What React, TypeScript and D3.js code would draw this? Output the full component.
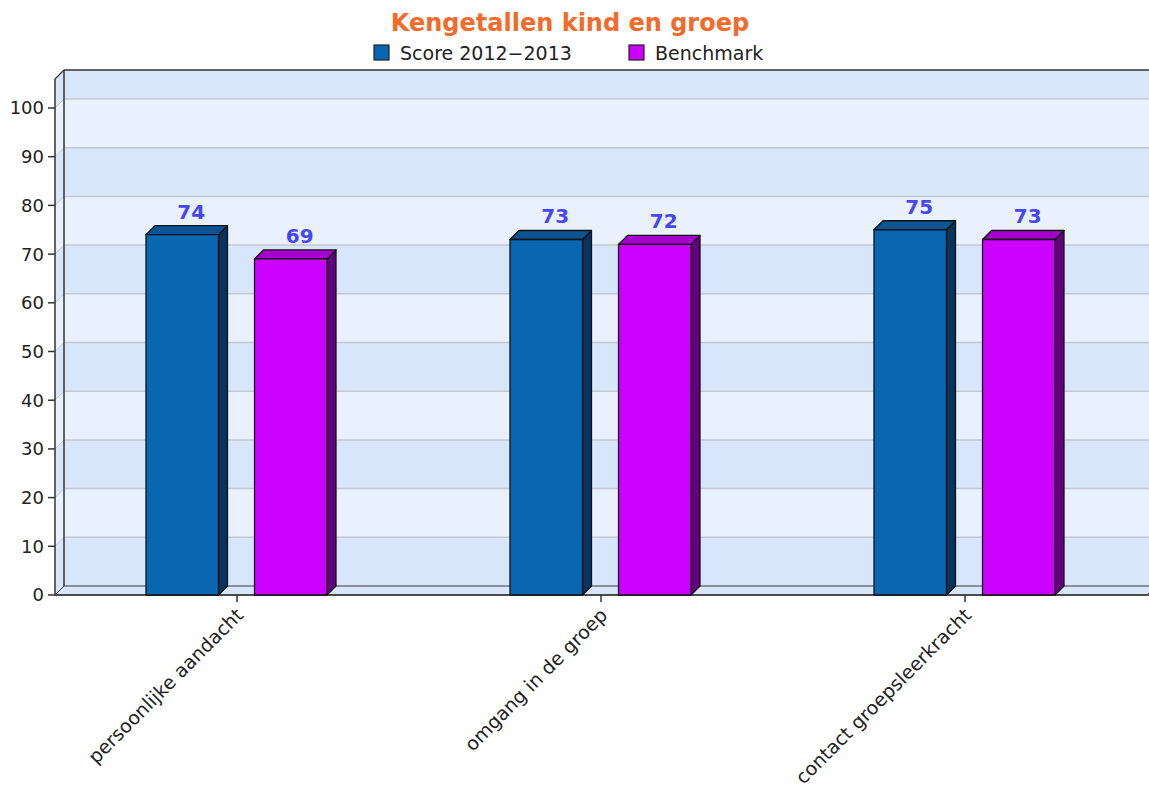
import { useEffect, useRef } from 'react';
import * as d3 from 'd3';

const categories = ['persoonlijke aandacht', 'omgang in de groep', 'contact groepsleerkracht'];
const seriesNames = ['Score 2012\u22122013', 'Benchmark'];
const scoreValues = [74, 73, 75];
const benchmarkValues = [69, 72, 73];
const yTicks = [0, 10, 20, 30, 40, 50, 60, 70, 80, 90, 100];

const W = 1149;
const H = 790;
const depth = 9;
const left = 55;
const right = 1147;
const yZero = 595;
const yHundred = 108;
const wallTop = 70;

const palette = [
  { front: '#0966b0', top: '#0a5394', side: '#06345f' },
  { front: '#cc00ff', top: '#a600cf', side: '#63007d' },
];
const bandDark = '#d8e6fc';
const bandLight = '#e9f0fe';
const font = '"DejaVu Sans", Verdana, sans-serif';

function drawChart(node: SVGSVGElement) {
  const svg = d3.select(node);
  svg.selectAll('*').remove();

  const y = d3.scaleLinear().domain([0, 100]).range([yZero, yHundred]);
  const yb = (v: number) => y(v) - depth;

  const x0 = d3.scaleBand<string>().domain(categories).range([left, right]);
  const half = x0.bandwidth() / 2;
  const x1 = d3.scaleBand<string>()
    .domain(seriesNames)
    .range([half - 91, half + 90])
    .paddingInner(0.332);

  // back wall bands
  const bandEdges = [...yTicks.map(v => yb(v)), wallTop];
  for (let i = 0; i < bandEdges.length - 1; i++) {
    const fill = i % 2 === 0 ? bandDark : bandLight;
    svg.append('rect')
      .attr('x', left + depth)
      .attr('y', bandEdges[i + 1])
      .attr('width', W - left - depth)
      .attr('height', bandEdges[i] - bandEdges[i + 1])
      .attr('fill', fill);
    // side wall band
    const yf1 = bandEdges[i] + depth;
    const yf2 = bandEdges[i + 1] + depth;
    svg.append('polygon')
      .attr('points', `${left},${yf1} ${left + depth},${bandEdges[i]} ${left + depth},${bandEdges[i + 1]} ${left},${yf2}`)
      .attr('fill', fill);
  }

  // gridlines
  yTicks.slice(1).forEach(v => {
    svg.append('line')
      .attr('x1', left + depth).attr('x2', W)
      .attr('y1', yb(v)).attr('y2', yb(v))
      .attr('stroke', '#c4c8cf').attr('stroke-width', 1.5);
    svg.append('line')
      .attr('x1', left).attr('x2', left + depth)
      .attr('y1', y(v)).attr('y2', yb(v))
      .attr('stroke', '#c4c8cf').attr('stroke-width', 1);
  });

  // floor
  svg.append('polygon')
    .attr('points', `${left},${yZero} ${left + depth},${yZero - depth} ${right + depth},${yZero - depth} ${right},${yZero}`)
    .attr('fill', bandDark)
    .attr('stroke', '#3a3a3a')
    .attr('stroke-width', 1);

  // wall edges
  svg.append('line')
    .attr('x1', left + depth).attr('x2', W)
    .attr('y1', wallTop).attr('y2', wallTop)
    .attr('stroke', '#333').attr('stroke-width', 1.5);
  svg.append('line')
    .attr('x1', left + depth).attr('x2', left + depth)
    .attr('y1', wallTop).attr('y2', yZero - depth)
    .attr('stroke', '#333').attr('stroke-width', 1.5);
  svg.append('line')
    .attr('x1', left).attr('x2', left + depth)
    .attr('y1', wallTop + depth).attr('y2', wallTop)
    .attr('stroke', '#333').attr('stroke-width', 1.2);
  svg.append('line')
    .attr('x1', left).attr('x2', left)
    .attr('y1', wallTop + depth).attr('y2', yZero)
    .attr('stroke', '#333').attr('stroke-width', 1.5);
  svg.append('line')
    .attr('x1', left).attr('x2', W)
    .attr('y1', yZero).attr('y2', yZero)
    .attr('stroke', '#333').attr('stroke-width', 1.5);

  // y ticks
  const yAxis = svg.append('g');
  yTicks.forEach(v => {
    yAxis.append('line')
      .attr('x1', left - 7).attr('x2', left)
      .attr('y1', y(v)).attr('y2', y(v))
      .attr('stroke', '#333').attr('stroke-width', 1.5);
    yAxis.append('text')
      .attr('x', left - 11)
      .attr('y', y(v))
      .attr('dy', '0.36em')
      .attr('text-anchor', 'end')
      .attr('font-family', font)
      .attr('font-size', 18)
      .attr('fill', '#222')
      .text(v);
  });

  // x ticks and labels
  categories.forEach(c => {
    const cx = (x0(c) as number) + half;
    svg.append('line')
      .attr('x1', cx).attr('x2', cx)
      .attr('y1', yZero).attr('y2', yZero + 7)
      .attr('stroke', '#333').attr('stroke-width', 1.5);
    svg.append('text')
      .attr('transform', `translate(${cx - 2},${yZero + 12}) rotate(-45)`)
      .attr('text-anchor', 'end')
      .attr('dy', '0.7em')
      .attr('font-family', font)
      .attr('font-size', 19)
      .attr('fill', '#222')
      .text(c);
  });

  // bars
  const series = [scoreValues, benchmarkValues];
  categories.forEach((c, ci) => {
    series.forEach((vals, si) => {
      const v = vals[ci];
      const bx = (x0(c) as number) + (x1(seriesNames[si]) as number);
      const bw = x1.bandwidth();
      const ty = y(v);
      const col = palette[si];
      const g = svg.append('g').attr('stroke', '#111').attr('stroke-width', 1.3).attr('stroke-linejoin', 'round');
      g.append('polygon')
        .attr('points', `${bx + bw},${ty} ${bx + bw + depth},${ty - depth} ${bx + bw + depth},${yZero - depth} ${bx + bw},${yZero}`)
        .attr('fill', col.side);
      g.append('polygon')
        .attr('points', `${bx},${ty} ${bx + depth},${ty - depth} ${bx + bw + depth},${ty - depth} ${bx + bw},${ty}`)
        .attr('fill', col.top);
      g.append('rect')
        .attr('x', bx).attr('y', ty)
        .attr('width', bw).attr('height', yZero - ty)
        .attr('fill', col.front);
      svg.append('text')
        .attr('x', bx + bw / 2 + depth)
        .attr('y', ty - depth - 7)
        .attr('text-anchor', 'middle')
        .attr('font-family', font)
        .attr('font-weight', 'bold')
        .attr('font-size', 20)
        .attr('fill', '#4646f5')
        .text(v);
    });
  });

  // title
  svg.append('text')
    .attr('x', 570).attr('y', 31)
    .attr('text-anchor', 'middle')
    .attr('font-family', font)
    .attr('font-weight', 'bold')
    .attr('font-size', 24)
    .attr('fill', '#f26b2b')
    .text('Kengetallen kind en groep');

  // legend
  const legendX = [374, 629];
  seriesNames.forEach((name, i) => {
    svg.append('rect')
      .attr('x', legendX[i]).attr('y', 45)
      .attr('width', 15).attr('height', 15)
      .attr('fill', palette[i].front)
      .attr('stroke', '#222').attr('stroke-width', 1.2);
    svg.append('text')
      .attr('x', legendX[i] + 26).attr('y', 53)
      .attr('dy', '0.36em')
      .attr('font-family', font)
      .attr('font-size', 19)
      .attr('fill', '#222')
      .text(name);
  });
}

export default function App() {
  const ref = useRef<SVGSVGElement>(null);
  useEffect(() => {
    if (ref.current) drawChart(ref.current);
  }, []);
  return (
    <svg
      ref={ref}
      width={W}
      height={H}
      style={{ position: 'absolute', left: 0, top: 0, background: '#fff' }}
    />
  );
}
